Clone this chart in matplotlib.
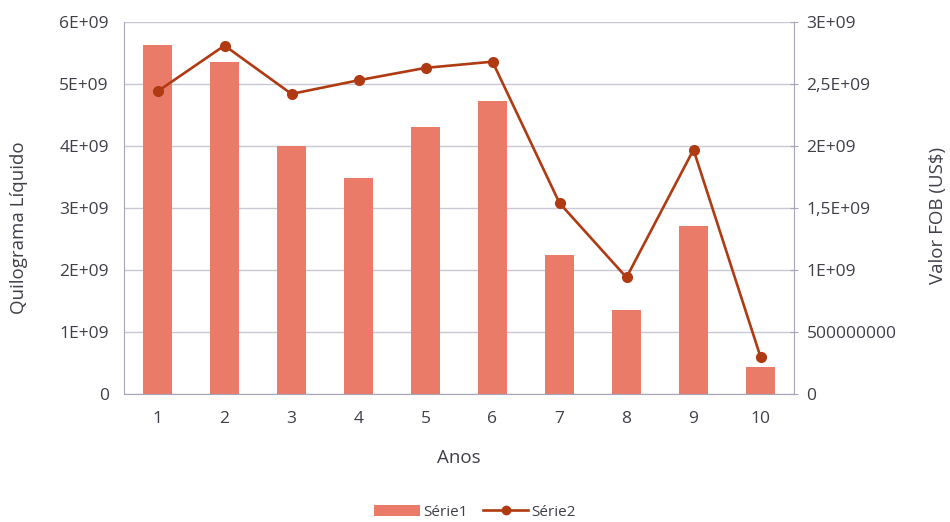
import matplotlib.pyplot as plt
from matplotlib.lines import Line2D
from matplotlib.patches import Patch

plt.rcParams['font.family'] = ['Open Sans', 'DejaVu Sans']

anos = [1, 2, 3, 4, 5, 6, 7, 8, 9, 10]
serie1 = [5.63e9, 5.36e9, 4.00e9, 3.48e9, 4.31e9, 4.73e9, 2.25e9, 1.36e9, 2.71e9, 0.44e9]
serie2 = [2.44e9, 2.81e9, 2.42e9, 2.53e9, 2.63e9, 2.68e9, 1.54e9, 0.94e9, 1.97e9, 0.30e9]

left_ticks = [0, 1e9, 2e9, 3e9, 4e9, 5e9, 6e9]
left_labels = ["0", "1E+09", "2E+09", "3E+09", "4E+09", "5E+09", "6E+09"]
right_ticks = [0, 0.5e9, 1e9, 1.5e9, 2e9, 2.5e9, 3e9]
right_labels = ["0", "500000000", "1E+09", "1,5E+09", "2E+09", "2,5E+09", "3E+09"]

bar_color = "#E97B68"
line_color = "#B03A12"
grid_color = "#C9C9D6"
text_color = "#3F3F4A"

fig = plt.figure(figsize=(9.5, 5.22), dpi=100)
ax1 = fig.add_axes([124 / 950, 1 - 394 / 522, 670 / 950, 372 / 522])
ax2 = ax1.twinx()

ax1.bar(anos, serie1, width=0.43, color=bar_color, zorder=2)
ax2.plot(anos, serie2, color=line_color, linewidth=1.9, marker="o", markersize=7, zorder=3)

ax1.set_xlim(0.5, 10.5)
ax1.set_ylim(0, 6e9)
ax2.set_ylim(0, 3e9)
ax1.set_xticks(anos)
ax1.set_xticklabels([str(a) for a in anos])
ax1.set_yticks(left_ticks)
ax1.set_yticklabels(left_labels)
ax2.set_yticks(right_ticks)
ax2.set_yticklabels(right_labels)

ax1.grid(axis="y", color=grid_color, linewidth=1, zorder=0)
ax1.set_axisbelow(True)

for ax in (ax1, ax2):
    ax.spines["top"].set_visible(False)
    for side in ("left", "right", "bottom"):
        ax.spines[side].set_color("#A6A6B8")
ax1.spines["right"].set_visible(False)
ax2.spines["left"].set_visible(False)
ax2.spines["bottom"].set_visible(False)

ax1.tick_params(axis="y", length=0, pad=11, labelsize=12.5, labelcolor=text_color)
ax1.tick_params(axis="x", length=0, pad=12, labelsize=12.5, labelcolor=text_color)
ax2.tick_params(axis="y", length=6, color="#A6A6B8", direction="inout", pad=6,
                labelsize=12.5, labelcolor=text_color)

ax1.set_xlabel("Anos", fontsize=13.5, color=text_color, va="center")
ax1.set_ylabel("Quilograma Líquido", fontsize=13.5, color=text_color, va="center", ha="center")
ax2.set_ylabel("Valor FOB (US$)", fontsize=13.5, color=text_color, rotation=90,
               va="center", ha="center")
ax1.xaxis.set_label_coords(0.5, (394 - 458) / 372)
ax1.yaxis.set_label_coords((19 - 124) / 670, (394 - 228) / 372)
ax2.yaxis.set_label_coords((938 - 124) / 670, (394 - 215) / 372)

handles = [Patch(facecolor=bar_color, label="Série1"),
           Line2D([0], [0], color=line_color, linewidth=1.9, marker="o", markersize=6, label="Série2")]
fig.legend(handles=handles, loc="center", bbox_to_anchor=(0.5, 1 - 512 / 522), ncol=2,
           frameon=False, fontsize=11, labelcolor=text_color, handlelength=3.0,
           handletextpad=0.2, columnspacing=1.0)

fig.savefig("out.png", dpi=100)
